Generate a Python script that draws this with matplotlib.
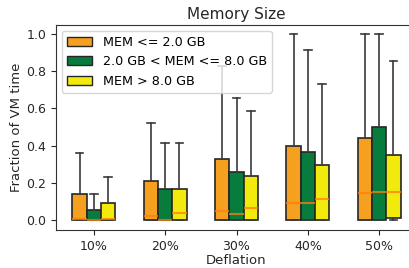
import matplotlib
matplotlib.use('Agg')
import matplotlib.pyplot as plt
from matplotlib.patches import Patch

categories = ['10%', '20%', '30%', '40%', '50%']
series = ['MEM <= 2.0 GB', '2.0 GB < MEM <= 8.0 GB', 'MEM > 8.0 GB']
colors = ['#f5a01e', '#077c3d', '#f2ea0c']

# per-series box statistics for each deflation level
small_lo = [0, 0, 0, 0, 0]
small_q1 = [0, 0, 0, 0, 0]
small_med = [0.005, 0.02, 0.05, 0.093, 0.142]
small_q3 = [0.14, 0.21, 0.33, 0.40, 0.44]
small_hi = [0.36, 0.52, 0.83, 1.0, 1.0]

mid_lo = [0, 0, 0, 0, 0]
mid_q1 = [0, 0, 0, 0, 0]
mid_med = [0.0, 0.0, 0.03, 0.093, 0.152]
mid_q3 = [0.055, 0.165, 0.26, 0.367, 0.50]
mid_hi = [0.14, 0.415, 0.655, 0.917, 1.0]

large_lo = [0, 0, 0, 0, 0]
large_q1 = [0, 0, 0, 0, 0.008]
large_med = [0.005, 0.035, 0.065, 0.11, 0.152]
large_q3 = [0.09, 0.165, 0.235, 0.294, 0.347]
large_hi = [0.23, 0.415, 0.584, 0.733, 0.854]

stats_all = [
    (small_lo, small_q1, small_med, small_q3, small_hi),
    (mid_lo, mid_q1, mid_med, mid_q3, mid_hi),
    (large_lo, large_q1, large_med, large_q3, large_hi),
]

fig = plt.figure(figsize=(4.09, 2.68), dpi=100)
ax = fig.add_axes([56 / 409, 38 / 268, 361 / 409, 205 / 268])

offsets = [-0.2, 0.0, 0.2]
width = 0.2
for s, (lo, q1, med, q3, hi) in enumerate(stats_all):
    bstats = []
    for i in range(len(categories)):
        bstats.append(dict(whislo=lo[i], q1=q1[i], med=med[i], q3=q3[i],
                           whishi=hi[i], fliers=[]))
    pos = [i + offsets[s] for i in range(len(categories))]
    bp = ax.bxp(bstats, positions=pos, widths=width, capwidths=0.11,
                patch_artist=True, showfliers=False, manage_ticks=False,
                boxprops=dict(facecolor=colors[s], edgecolor='#262626', linewidth=1.2),
                whiskerprops=dict(color='#3a3a3a', linewidth=1.2),
                capprops=dict(color='#3a3a3a', linewidth=1.2),
                medianprops=dict(color='#ff7f0e', linewidth=1.5, alpha=0.75))

ax.set_xlim(-0.53, 4.53)
ax.set_ylim(-0.055, 1.05)
ax.set_xticks(range(len(categories)))
ax.set_xticklabels(categories)
ax.set_yticks([0.0, 0.2, 0.4, 0.6, 0.8, 1.0])
ax.tick_params(labelsize=9, colors='#262626')
ax.set_xlabel('Deflation', fontsize=9.5, labelpad=1, color='#262626')
ax.set_ylabel('Fraction of VM time', fontsize=9.5, labelpad=2, color='#262626')
ax.set_title('Memory Size', fontsize=11, pad=4, color='#262626')
for sp in ax.spines.values():
    sp.set_color('#333333')

handles = [Patch(facecolor=c, edgecolor='#262626', label=l) for c, l in zip(colors, series)]
ax.legend(handles=handles, loc='upper left', fontsize=9.2, bbox_to_anchor=(0.0, 1.0),
          borderaxespad=0.45)

fig.savefig('out.png', dpi=100)
